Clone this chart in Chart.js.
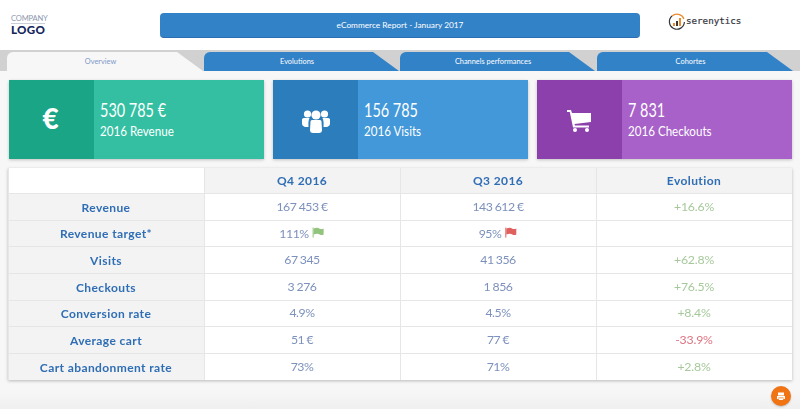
<!DOCTYPE html>
<html>
<head>
<meta charset="utf-8">
<title>eCommerce Report - January 2017</title>
<script src="https://cdn.jsdelivr.net/npm/chart.js@4"></script>
<style>
    html, body { margin: 0; padding: 0; }
    body { width: 800px; height: 409px; position: relative; overflow: hidden; background: #f7f7f7; font-family: Lato, sans-serif; }
    .abs { position: absolute; }
    #top { left: 0; top: 0; width: 800px; height: 50px; background: #fff; }
    #bottom { left: 0; top: 390px; width: 800px; height: 19px; background: linear-gradient(#f7f7f7, #efefef); }
    #company { left: 11px; top: 14px; width: 34px; font-size: 7.6px; line-height: 9px; color: #8e99b0; border-bottom: 1px solid #c9ced8; letter-spacing: -0.2px; }
    #logo { left: 11px; top: 23px; font-size: 11.6px; line-height: 14px; font-weight: 900; color: #14265c; letter-spacing: 0.3px; }
    #title { left: 160px; top: 13px; width: 480px; height: 25px; line-height: 25px; background: #3282c8; border-radius: 4px; border-bottom: 1px solid #2a70b0; box-sizing: border-box; color: #fff; text-align: center; font-size: 8.3px; }
    #brand { left: 668px; top: 13px; }
    #brandText { left: 686px; top: 14px; font-family: "DejaVu Sans Mono", monospace; font-weight: 400; font-size: 9.2px; line-height: 14px; color: #33363c; -webkit-text-stroke: 0.2px #33363c; }
    #strip { left: 0; top: 50px; width: 800px; height: 21px; background: #d1d1d1; }
    .tab { top: 52px; height: 19px; line-height: 19px; box-sizing: border-box; padding-right: 9px; text-align: center; font-size: 7.4px; color: #fff; background: #3282c8; border-top-left-radius: 6px; border-top-right-radius: 4px; }
    .tab.on { background: #f7f7f7; color: #8098c8; }
    .card { top: 80px; height: 79px; width: 255px; box-shadow: 0 1px 3px rgba(0,0,0,.22); color: #fff; }
    .card .dark { position: absolute; left: 0; top: 0; width: 85px; height: 79px; }
    .card .icon { position: absolute; left: 0; top: 0; width: 85px; height: 79px; display: flex; align-items: center; justify-content: center; font-size: 28px; font-weight: 900; }
    .card .icon.texto { top: -2px; left: -1px; }
    .card .icon svg { margin-top: 2px; }
    .card .val { position: absolute; left: 91px; top: 18px; font-size: 19px; line-height: 24px; font-weight: 400; white-space: nowrap; transform: scaleX(0.76); transform-origin: left; }
    .card .sub { position: absolute; left: 91px; top: 42px; font-size: 13.2px; line-height: 18px; white-space: nowrap; transform: scaleX(0.88); transform-origin: left; }
    #tableShadow { left: 8px; top: 168px; width: 784px; height: 212px; box-shadow: 0 1px 3px rgba(0,0,0,.25); background: #fff; }
    #tableBox { left: 8px; top: 167px; width: 784px; height: 213px; clip-path: inset(1px 0 0 0); }
    #print { left: 771px; top: 386px; width: 20px; height: 20px; border-radius: 50%; background: #f07314; box-shadow: 0 1px 2px rgba(0,0,0,.2); }
</style>
</head>
<body>
<div id="top" class="abs"></div>
<div id="bottom" class="abs"></div>
<div id="company" class="abs">COMPANY</div>
<div id="logo" class="abs">LOGO</div>
<div id="title" class="abs">eCommerce Report - January 2017</div>
<svg id="brand" class="abs" width="18" height="18" viewBox="0 0 18 18">
    <path d="M 4 3 A 7.5 7.5 0 0 1 16 6" fill="none" stroke="#ee8a2c" stroke-width="1.2"/>
    <path d="M 16.4 9 A 7.5 7.5 0 1 1 4 3" fill="none" stroke="#33363c" stroke-width="1.2"/>
    <rect x="5" y="10" width="2" height="3" fill="#ee8a2c"/>
    <rect x="8" y="8" width="2" height="5" fill="#33363c"/>
    <rect x="11" y="5" width="2" height="8" fill="#ee8a2c"/>
</svg>
<div id="brandText" class="abs">serenytics</div>
<div id="strip" class="abs"></div>
<div id="tabs"></div>
<div id="cards"></div>
<div id="tableShadow" class="abs"></div>
<div id="tableBox" class="abs"><canvas id="tabela" width="784" height="213"></canvas></div>
<div id="print" class="abs">
    <svg width="20" height="20" viewBox="0 0 20 20">
        <path d="M7 6.5h6v3H7z M6 10h8v3h-1.5v-1.5h-5V13H6z M7.8 12.3h4.4V14H7.8z" fill="#fff"/>
    </svg>
</div>

<script>
const abas = ["Overview", "Evolutions", "Channels performances", "Cohortes"];

const kpiValores = ["530 785 €", "156 785", "7 831"];
const kpiTitulos = ["2016 Revenue", "2016 Visits", "2016 Checkouts"];

const colunas = ["", "Q4 2016", "Q3 2016", "Evolution"];
const linhas = ["Revenue", "Revenue target*", "Visits", "Checkouts", "Conversion rate", "Average cart", "Cart abandonment rate"];
const q4 = ["167 453 €", "111%", "67 345", "3 276", "4.9%", "51 €", "73%"];
const q3 = ["143 612 €", "95%", "41 356", "1 856", "4.5%", "77 €", "71%"];
const evolucao = ["+16.6%", "", "+62.8%", "+76.5%", "+8.4%", "-33.9%", "+2.8%"];

// posicoes das abas e dos cartoes na pagina
const abaLefts = [7, 204, 400, 597];
const abaWidths = [196, 195, 195, 196];
abas.forEach(function (nome, i) {
    const d = document.createElement("div");
    d.className = "abs tab" + (i === 0 ? " on" : "");
    d.style.left = abaLefts[i] + "px";
    d.style.width = abaWidths[i] + "px";
    const w = abaWidths[i];
    d.style.clipPath = "polygon(0 0," + (w - 26) + "px 0," + w + "px 100%,0 100%)";
    d.textContent = nome;
    document.getElementById("tabs").appendChild(d);
});

const iconeUsers = '<svg width="28" height="26" viewBox="0 0 28 26" fill="#fff"><circle cx="5.5" cy="6" r="3.6"/><circle cx="22.5" cy="6" r="3.6"/><circle cx="14" cy="7" r="4.6"/><path d="M0 11.5 Q0 10 2 10 L7.5 10 Q6 13 6.5 19 L3 19 Q0 18 0 16z"/><path d="M28 11.5 Q28 10 26 10 L20.5 10 Q22 13 21.5 19 L25 19 Q28 18 28 16z"/><path d="M8.5 13.5 Q8.5 12 10 12 L18 12 Q19.5 12 19.5 13.5 L20 22 Q20 25 17 25 L11 25 Q8 25 8 22z"/></svg>';
const iconeCart = '<svg width="25" height="22" viewBox="0 0 25 22" fill="#fff"><path d="M0 0 H4 L5 3 H24 V12 L7.5 14 L8 15.5 H22 V17.5 H6 L2.8 2 H0z"/><circle cx="8" cy="20" r="2"/><circle cx="20" cy="20" r="2"/></svg>';
const icones = ["€", iconeUsers, iconeCart];
const cardLefts = [9, 273, 537];
const coresClaras = ["#34bfa3", "#4298d8", "#a861c9"];
const coresEscuras = ["#1ba587", "#2b7dbb", "#8c40ab"];

kpiValores.forEach(function (valor, i) {
    const c = document.createElement("div");
    c.className = "abs card";
    c.style.left = cardLefts[i] + "px";
    c.style.background = coresClaras[i];
    c.innerHTML = '<div class="dark" style="background:' + coresEscuras[i] + '"></div>' +
        '<div class="icon' + (i === 0 ? ' texto' : '') + '">' + icones[i] + '</div>' +
        '<div class="val">' + valor + '</div>' +
        '<div class="sub">' + kpiTitulos[i] + '</div>';
    document.getElementById("cards").appendChild(c);
});

// tabela: cada celula e um segmento de barra empilhada
const rotulosY = ["header"].concat(linhas);
const corCelula = function (col, row) {
    if (col === 0 && row === 0) return "#ffffff";
    if (col === 0 || row === 0) return "#f3f3f3";
    return "#ffffff";
};
const datasets = colunas.map(function (nome, col) {
    return {
        label: nome || "Metric",
        data: rotulosY.map(function () { return 1; }),
        backgroundColor: function (ctx) { return corCelula(col, ctx.dataIndex); },
        borderWidth: 0,
        barPercentage: 1,
        categoryPercentage: 1
    };
});

function bandeira(ctx, x, y, cor) {
    ctx.fillStyle = cor;
    ctx.fillRect(x, y - 5, 1, 10);
    ctx.beginPath();
    ctx.moveTo(x + 1, y - 4);
    ctx.quadraticCurveTo(x + 5, y - 5.5, x + 7, y - 3.8);
    ctx.quadraticCurveTo(x + 9, y - 3, x + 11, y - 4);
    ctx.lineTo(x + 11, y + 2);
    ctx.quadraticCurveTo(x + 9, y + 3, x + 7, y + 2);
    ctx.quadraticCurveTo(x + 5, y + 0.5, x + 1, y + 2);
    ctx.closePath();
    ctx.fill();
}

// texto com bandeira: o conjunto fica centrado na celula
function textoComBandeira(ctx, texto, cx, py, cor) {
    const w = ctx.measureText(texto).width;
    const inicio = cx - (w + 16) / 2;
    ctx.textAlign = "left";
    ctx.fillStyle = "#7d91bd";
    ctx.fillText(texto, inicio, py);
    ctx.textAlign = "center";
    bandeira(ctx, inicio + w + 4, py - 1, cor);
}

const textoCelulas = {
    id: "textoCelulas",
    afterDatasetsDraw: function (chart) {
        const ctx = chart.ctx;
        const x = chart.scales.x;
        const y = chart.scales.y;
        ctx.save();
        ctx.textAlign = "center";
        ctx.textBaseline = "middle";

        const centro = function (col) { return x.getPixelForValue(col + 0.5); };

        ctx.font = "700 12px Lato";
        ctx.fillStyle = "#2f6db5";
        ctx.letterSpacing = "0.4px";
        colunas.forEach(function (nome, col) {
            ctx.fillText(nome, centro(col), y.getPixelForValue(0) + 1);
        });
        linhas.forEach(function (nome, i) {
            ctx.fillText(nome, centro(0), y.getPixelForValue(i + 1) + 1);
        });

        ctx.font = "400 12.3px Lato";
        linhas.forEach(function (nome, i) {
            const py = y.getPixelForValue(i + 1);
            ctx.fillStyle = "#7d91bd";
            ctx.letterSpacing = "-0.5px";
            ctx.wordSpacing = "-0.3px";
            if (nome === "Revenue target*") {
                textoComBandeira(ctx, q4[i], centro(1), py, "#93c47d");
                textoComBandeira(ctx, q3[i], centro(2), py, "#e0605f");
            } else {
                ctx.fillText(q4[i], centro(1), py);
                ctx.fillText(q3[i], centro(2), py);
            }
            ctx.letterSpacing = "-0.2px";
            ctx.fillStyle = evolucao[i].charAt(0) === "-" ? "#df7482" : "#a6c99b";
            ctx.fillText(evolucao[i], centro(3), py);
        });
        ctx.restore();
    }
};

new Chart(document.getElementById("tabela").getContext("2d"), {
    type: "bar",
    data: { labels: rotulosY, datasets: datasets },
    plugins: [textoCelulas],
    options: {
        indexAxis: "y",
        responsive: false,
        animation: false,
        layout: { padding: 0 },
        plugins: { legend: { display: false }, tooltip: { enabled: false } },
        scales: {
            x: {
                stacked: true,
                min: 0,
                max: 4,
                ticks: { display: false, stepSize: 1 },
                grid: { color: "#e6e6e6", drawTicks: false, z: 1 },
                border: { display: false }
            },
            y: {
                stacked: true,
                ticks: { display: false },
                grid: { color: "#e6e6e6", drawTicks: false, offset: true, z: 1 },
                border: { display: false }
            }
        }
    }
});
</script>
</body>
</html>
